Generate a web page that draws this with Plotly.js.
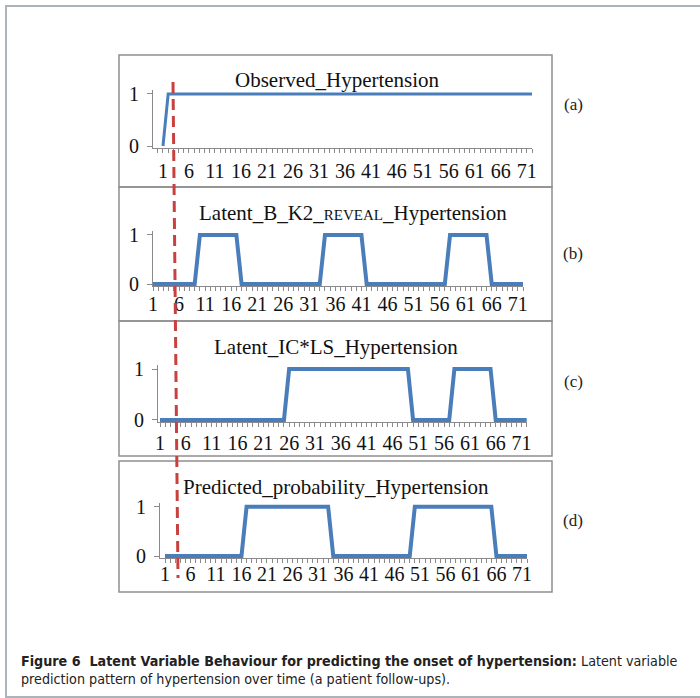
<!DOCTYPE html>
<html>
<head>
<meta charset="utf-8">
<script src="https://cdn.plot.ly/plotly-3.0.1.min.js"></script>
<style>
html,body{margin:0;padding:0;background:#fff;}
#chart{width:700px;height:698px;}
</style>
</head>
<body>
<div id="chart"></div>
<script>
// ---- data (patient follow-ups) ----
const followUp = [
  1,2,3,4,5,6,7,8,9,10,11,12,
  13,14,15,16,17,18,19,20,21,22,23,24,
  25,26,27,28,29,30,31,32,33,34,35,36,
  37,38,39,40,41,42,43,44,45,46,47,48,
  49,50,51,52,53,54,55,56,57,58,59,60,
  61,62,63,64,65,66,67,68,69,70,71,72
];
const observedHypertension = [
  0,1,1,1,1,1,1,1,1,1,1,1,
  1,1,1,1,1,1,1,1,1,1,1,1,
  1,1,1,1,1,1,1,1,1,1,1,1,
  1,1,1,1,1,1,1,1,1,1,1,1,
  1,1,1,1,1,1,1,1,1,1,1,1,
  1,1,1,1,1,1,1,1,1,1,1,1
];
const latentBK2Reveal = [
  0,0,0,0,0,0,0,0,0,1,1,1,
  1,1,1,1,1,0,0,0,0,0,0,0,
  0,0,0,0,0,0,0,0,0,1,1,1,
  1,1,1,1,1,0,0,0,0,0,0,0,
  0,0,0,0,0,0,0,0,0,1,1,1,
  1,1,1,1,1,0,0,0,0,0,0,0
];
const latentICLS = [
  0,0,0,0,0,0,0,0,0,0,0,0,
  0,0,0,0,0,0,0,0,0,0,0,0,
  0,1,1,1,1,1,1,1,1,1,1,1,
  1,1,1,1,1,1,1,1,1,1,1,1,
  1,0,0,0,0,0,0,0,0,1,1,1,
  1,1,1,1,1,0,0,0,0,0,0,0
];
const predictedProbability = [
  0,0,0,0,0,0,0,0,0,0,0,0,
  0,0,0,0,1,1,1,1,1,1,1,1,
  1,1,1,1,1,1,1,1,1,0,0,0,
  0,0,0,0,0,0,0,0,0,0,0,0,
  0,1,1,1,1,1,1,1,1,1,1,1,
  1,1,1,1,1,0,0,0,0,0,0,0
];
const xTickVals = [1,6,11,16,21,26,31,36,41,46,51,56,61,66,71];
const xTickText = ['1','6','11','16','21','26','31','36','41','46','51','56','61','66','71'];
const yTickVals = [0,1];
const yTickText = ['0','1'];
const panelTitles = [
  'Observed_Hypertension',
  'Latent_B_K2_<span style="font-size:15px">REVEAL</span>_Hypertension',
  'Latent_IC*LS_Hypertension',
  'Predicted_probability_Hypertension'
];
const panelLabels = ['(a)','(b)','(c)','(d)'];
const captionBold = 'Figure 6  Latent Variable Behaviour for predicting the onset of hypertension:';
const captionRest1 = ' Latent variable';
const captionRest2 = 'prediction pattern of hypertension over time (a patient follow-ups).';

// ---- layout helpers ----
const W = 700, H = 698;
const px = v => v / W;
const py = v => 1 - v / H;

const series = [observedHypertension, latentBK2Reveal, latentICLS, predictedProbability];
const lineWidths = [3, 4, 4, 4];
// pixel geometry of each panel's plot area
const panels = [
  {x0:153, x1:532, yTop:89.8, yBot:148.1, range:[-0.92,72], stand:1},
  {x0:153, x1:523, yTop:231, yBot:286, range:[1,72], stand:-4},
  {x0:158, x1:527, yTop:365, yBot:422, range:[0.61,72.06], stand:-1},
  {x0:160, x1:527, yTop:502.8, yBot:558, range:[0.02,72], stand:-6}
];
const boxes = [[119,55,552,187],[119,187,552,321],[119,321,552,456],[119,461,552,592]];
const titlePos = [[337,80],[353,213],[336,347],[336,487]];
const labelPos = [[573,104],[573,254],[573,381],[573,520]];

const serif = 'Liberation Serif, Times New Roman, serif';
const axisGray = '#8a8a8a';
const blue = '#4A7EBB';

const traces = [];
const layout = {
  width: W, height: H,
  margin: {l:0, r:0, t:0, b:0},
  paper_bgcolor: '#fff',
  plot_bgcolor: 'rgba(0,0,0,0)',
  showlegend: false,
  shapes: [],
  annotations: []
};

series.forEach((vals, i) => {
  const n = i + 1;
  const xa = n === 1 ? 'xaxis' : 'xaxis' + n;
  const ya = n === 1 ? 'yaxis' : 'yaxis' + n;
  const p = panels[i];
  traces.push({
    type: 'scatter', mode: 'lines',
    x: followUp, y: vals,
    xaxis: 'x' + (n === 1 ? '' : n), yaxis: 'y' + (n === 1 ? '' : n),
    line: {color: blue, width: lineWidths[i]},
    hoverinfo: 'skip'
  });
  layout[xa] = {
    domain: [px(p.x0), px(p.x1)],
    range: p.range,
    anchor: 'y' + (n === 1 ? '' : n),
    showgrid: false, zeroline: false,
    showline: true, linecolor: axisGray, linewidth: 1,
    tickmode: 'array', tickvals: xTickVals, ticktext: xTickText,
    ticks: 'outside', ticklen: 4, tickwidth: 1, tickcolor: axisGray,
    ticklabelstandoff: p.stand,
    minor: {tickmode: 'linear', tick0: 0, dtick: 1, ticks: 'outside', ticklen: 4, tickwidth: 1, tickcolor: axisGray, showgrid: false},
    tickfont: {family: serif, size: 20, color: '#111'},
    fixedrange: true
  };
  layout[ya] = {
    domain: [py(p.yBot), py(p.yTop)],
    range: [-0.04, 1.08],
    anchor: 'x' + (n === 1 ? '' : n),
    showgrid: false, zeroline: false,
    showline: true, linecolor: axisGray, linewidth: 1,
    tickmode: 'array', tickvals: yTickVals, ticktext: yTickText,
    ticks: 'outside', ticklen: 5, tickwidth: 1, tickcolor: axisGray,
    ticklabelstandoff: 4,
    tickfont: {family: serif, size: 20, color: '#111'},
    fixedrange: true
  };
  const b = boxes[i];
  layout.shapes.push({
    type: 'rect', xref: 'paper', yref: 'paper', layer: 'below',
    x0: px(b[0]), x1: px(b[2]), y0: py(b[3]), y1: py(b[1]),
    line: {color: '#8f8f8f', width: 1.5}, fillcolor: 'rgba(0,0,0,0)'
  });
  layout.annotations.push({
    xref: 'paper', yref: 'paper', x: px(titlePos[i][0]), y: py(titlePos[i][1]),
    xanchor: 'center', yanchor: 'middle', showarrow: false,
    text: panelTitles[i], font: {family: serif, size: 21, color: '#111'}
  });
  layout.annotations.push({
    xref: 'paper', yref: 'paper', x: px(labelPos[i][0]), y: py(labelPos[i][1]),
    xanchor: 'center', yanchor: 'middle', showarrow: false,
    text: panelLabels[i], font: {family: serif, size: 17, color: '#222'}
  });
});

// outer figure frame
layout.shapes.unshift({
  type: 'rect', xref: 'paper', yref: 'paper', layer: 'below',
  x0: px(6), x1: px(740), y0: py(697), y1: py(6),
  line: {color: '#adb3ba', width: 2}, fillcolor: 'rgba(0,0,0,0)'
});
// red dashed marker line (onset)
layout.shapes.push({
  type: 'line', xref: 'paper', yref: 'paper', layer: 'above',
  x0: px(173), y0: py(82), x1: px(178), y1: py(578),
  line: {color: '#C8413F', width: 3, dash: '11px,6px'}
});

// caption
layout.annotations.push({
  xref: 'paper', yref: 'paper', x: px(19), y: py(670),
  xanchor: 'left', yanchor: 'middle', align: 'left', showarrow: false,
  text: '<b>' + captionBold + '</b>' + captionRest1 + '<br>' + captionRest2,
  font: {family: 'Liberation Sans Narrow, DejaVu Sans Condensed, Roboto Condensed, Liberation Sans, sans-serif', size: 14.2, color: '#222'}
});

Plotly.newPlot('chart', traces, layout, {displayModeBar: false, staticPlot: true});
</script>
</body>
</html>
